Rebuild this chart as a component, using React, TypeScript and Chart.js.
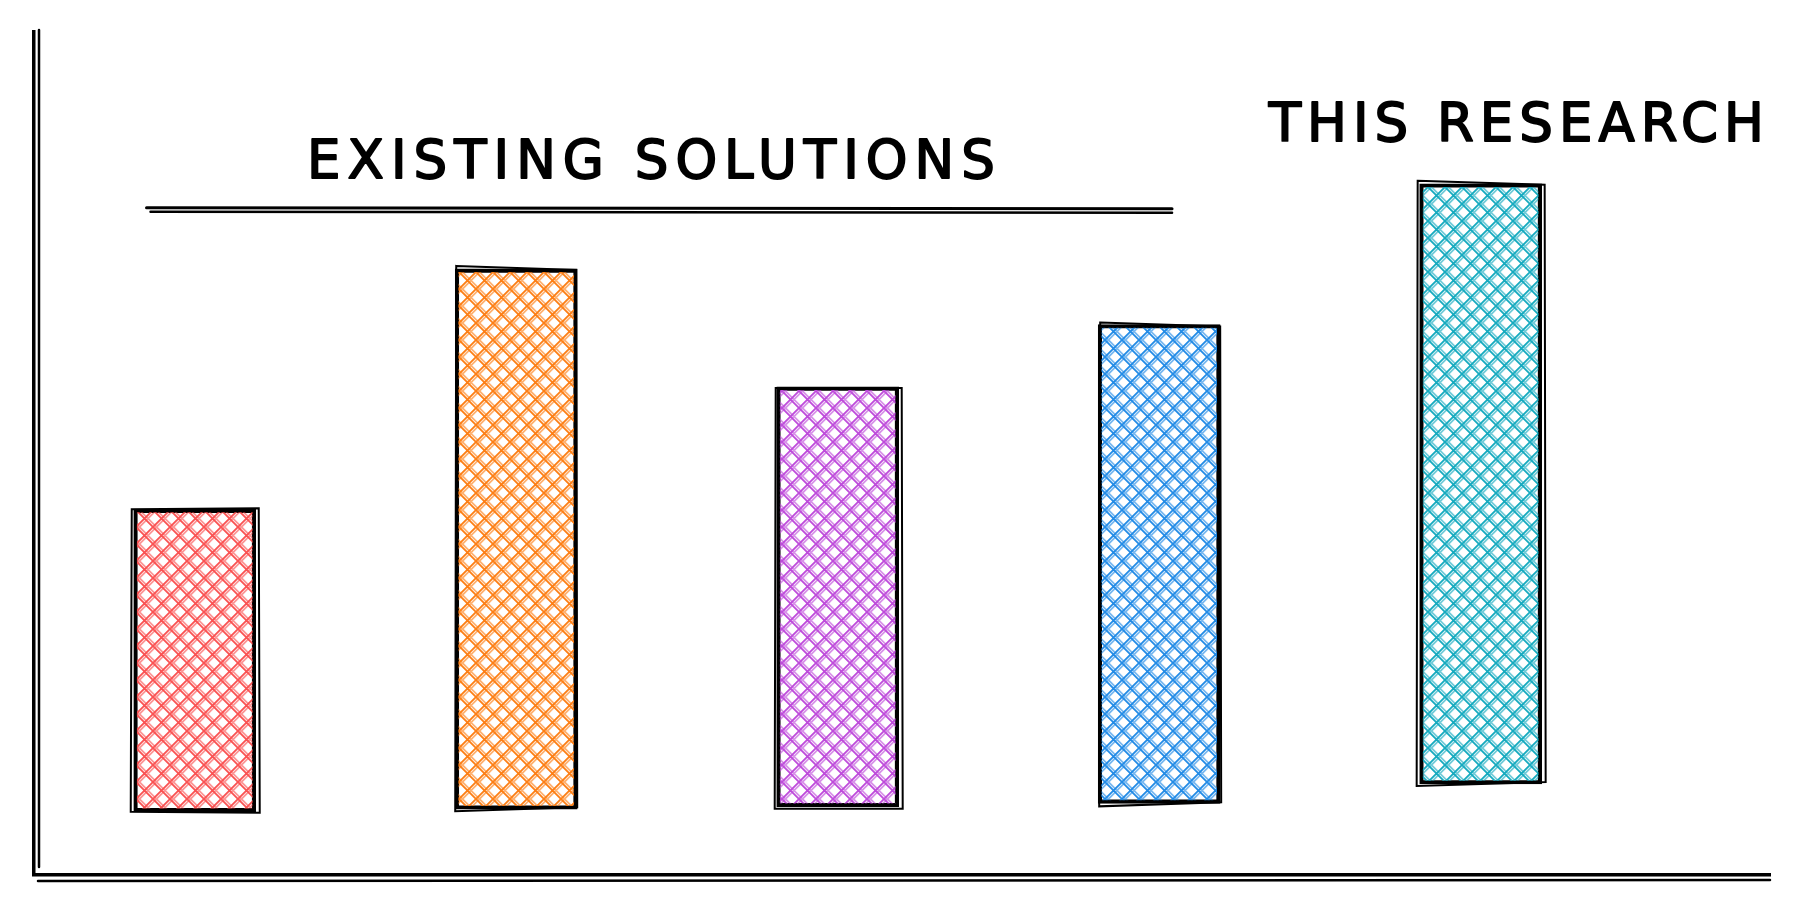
import React, { useEffect, useRef } from 'react';
import { Chart, registerables } from 'chart.js';

Chart.register(...registerables);

// ---- data ----
const categories = ['Existing solution 1', 'Existing solution 2', 'Existing solution 3', 'Existing solution 4', 'This research'];
const barBottoms = [7.5, 7.8, 8.1, 8.5, 10.8];
const barTops = [43.4, 71.9, 57.9, 65.3, 82.0];
const barColors = ['#fa5252', '#fd7e14', '#be4bdb', '#228be6', '#15aabf'];
const groupLabels = ['EXISTING SOLUTIONS', 'THIS RESEARCH'];

// annotation placement in data units (x = bar index, y = value)
const groupLabelX = [1.43, 4.12];
const groupLabelY = [82.7, 87.1];
const groupLabelSpacing = [7, 6];
const underlineFrom = -0.15;
const underlineTo = 3.04;
const underlineY = 78.9;

function hatch(color: string): CanvasPattern {
  const s = 17;
  const c = document.createElement('canvas');
  c.width = s;
  c.height = s;
  const g = c.getContext('2d')!;
  g.strokeStyle = color;
  g.lineWidth = 1.8;
  const lines = (off: number, alpha: number) => {
    g.globalAlpha = alpha;
    g.beginPath();
    for (let k = -1; k <= 1; k++) {
      const o = k * s + off;
      g.moveTo(o, s);
      g.lineTo(o + s, 0);
      g.moveTo(o, 0);
      g.lineTo(o + s, s);
    }
    g.stroke();
  };
  lines(0, 1);
  lines(3.5, 0.6);
  return g.createPattern(c, 'repeat')!;
}

const jitter = [
  [-2, 1, 2, -1],
  [1, -2, -2, 1],
  [-1, 2, 2, 1],
  [2, -1, -1, 2],
  [-2, -2, 2, 1],
];

const sketchPlugin = {
  id: 'sketch',
  afterDatasetsDraw(chart: any) {
    const ctx = chart.ctx;
    const meta = chart.getDatasetMeta(0);
    ctx.save();
    ctx.strokeStyle = '#000';
    ctx.lineWidth = 2;
    ctx.lineCap = 'round';
    meta.data.forEach((el: any, i: number) => {
      const p = el.getProps(['x', 'y', 'base', 'width'], true);
      const l = p.x - p.width / 2;
      const r = p.x + p.width / 2;
      const t = Math.min(p.y, p.base);
      const b = Math.max(p.y, p.base);
      const j = jitter[i % jitter.length];
      ctx.beginPath();
      ctx.moveTo(l + j[0], t + j[1] - 1);
      ctx.lineTo(r + j[2] + 1, t + j[3]);
      ctx.lineTo(r + j[2] + 2, b + j[1]);
      ctx.lineTo(l + j[0] - 1, b + j[3] + 1);
      ctx.closePath();
      ctx.stroke();
    });
    ctx.restore();
  },
  afterDraw(chart: any) {
    const ctx = chart.ctx;
    const { left, right, top, bottom } = chart.chartArea;
    const xs = chart.scales.x;
    const ys = chart.scales.y;
    ctx.save();
    ctx.strokeStyle = '#000';
    ctx.lineCap = 'round';
    // second strokes of the axes
    ctx.lineWidth = 2.5;
    ctx.beginPath();
    ctx.moveTo(left + 5, top - 2);
    ctx.lineTo(left + 5, bottom - 8);
    ctx.moveTo(left + 4, bottom + 6);
    ctx.lineTo(right, bottom + 5);
    ctx.stroke();
    // underline of the group label
    const uy = ys.getPixelForValue(underlineY);
    const ux0 = xs.getPixelForValue(underlineFrom);
    const ux1 = xs.getPixelForValue(underlineTo);
    ctx.lineWidth = 3;
    ctx.beginPath();
    ctx.moveTo(ux0, uy - 2);
    ctx.lineTo(ux1, uy - 1);
    ctx.stroke();
    ctx.lineWidth = 2.5;
    ctx.beginPath();
    ctx.moveTo(ux0 + 4, uy + 2);
    ctx.lineTo(ux1, uy + 3);
    ctx.stroke();
    // group labels
    ctx.fillStyle = '#000';
    ctx.lineWidth = 1.8;
    ctx.lineJoin = 'round';
    ctx.textAlign = 'center';
    ctx.textBaseline = 'alphabetic';
    ctx.font = '53px "DejaVu Sans"';
    groupLabels.forEach((txt, i) => {
      (ctx as any).letterSpacing = groupLabelSpacing[i] + 'px';
      const tx = xs.getPixelForValue(groupLabelX[i]);
      const ty = ys.getPixelForValue(groupLabelY[i]);
      ctx.fillText(txt, tx, ty);
      ctx.strokeText(txt, tx, ty);
    });
    ctx.restore();
  },
};

export default function App() {
  const ref = useRef<HTMLCanvasElement | null>(null);
  useEffect(() => {
    if (!ref.current) return;
    const chart = new Chart(ref.current, {
      type: 'bar',
      data: {
        datasets: [
          {
            label: 'Score',
            data: categories.map((_, i) => ({ x: i, y: [barBottoms[i], barTops[i]] })) as any,
            backgroundColor: barColors.map(hatch) as any,
            borderColor: '#000',
            borderWidth: 3.5,
            borderSkipped: false,
            barThickness: 122,
          },
        ],
      },
      options: {
        animation: false,
        responsive: true,
        maintainAspectRatio: false,
        layout: { padding: { left: 34, top: 32, right: 32, bottom: 35 } },
        plugins: { legend: { display: false }, tooltip: { enabled: false }, title: { display: false } },
        scales: {
          x: {
            type: 'linear',
            offset: false,
            min: -0.5,
            max: 4.9,
            ticks: { display: false, stepSize: 1 },
            grid: { display: false, drawTicks: false, offset: false },
            border: { display: true, color: '#000', width: 3.5 },
          },
          y: {
            min: 0,
            max: 100,
            ticks: { display: false },
            grid: { display: false, drawTicks: false },
            border: { display: true, color: '#000', width: 3.5 },
          },
        },
      },
      plugins: [sketchPlugin],
    });
    return () => chart.destroy();
  }, []);
  return (
    <div style={{ position: 'fixed', left: 0, top: 0, width: '1802px', height: '910px', background: '#fff' }}>
      <canvas ref={ref} />
    </div>
  );
}
